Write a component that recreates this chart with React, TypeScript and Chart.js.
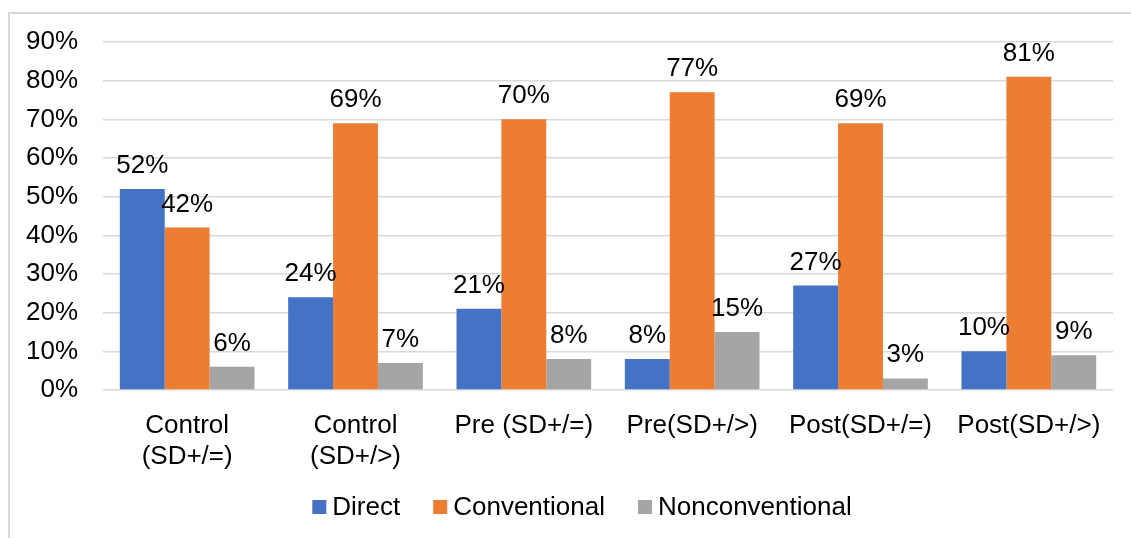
import React, { useEffect, useRef } from "react";
import { Chart, registerables } from "chart.js";

Chart.register(...registerables);

// Groups along the x axis (multi-line labels are arrays)
const categories: (string | string[])[] = [
  ["Control", "(SD+/=)"],
  ["Control", "(SD+/>)"],
  "Pre (SD+/=)",
  "Pre(SD+/>)",
  "Post(SD+/=)",
  "Post(SD+/>)",
];

// Percent of responses per strategy type
const directValues = [52, 24, 21, 8, 27, 10];
const conventionalValues = [42, 69, 70, 77, 69, 81];
const nonconventionalValues = [6, 7, 8, 15, 3, 9];

const seriesNames = ["Direct", "Conventional", "Nonconventional"];
const seriesColors = ["#4472C4", "#ED7D31", "#A5A5A5"];

// y axis: 0% .. 90% in steps of 10
const yMax = 90;
const yStep = 10;

const FONT = '"Liberation Sans", Arial, sans-serif';
const FONT_SIZE = 26;

// Writes the value above each bar
const barValueLabels = {
  id: "barValueLabels",
  afterDatasetsDraw(chart: any) {
    const ctx = chart.ctx;
    ctx.save();
    ctx.font = `${FONT_SIZE}px ${FONT}`;
    ctx.fillStyle = "#000";
    ctx.textAlign = "center";
    ctx.textBaseline = "alphabetic";
    chart.data.datasets.forEach((ds: any, di: number) => {
      const meta = chart.getDatasetMeta(di);
      meta.data.forEach((bar: any, i: number) => {
        ctx.fillText(`${ds.data[i]}%`, bar.x, bar.y - 16);
      });
    });
    ctx.restore();
  },
};

// Legend row under the axis: square swatch + series name
const bottomLegend = {
  id: "bottomLegend",
  afterDraw(chart: any) {
    const ctx = chart.ctx;
    ctx.save();
    ctx.font = `${FONT_SIZE}px ${FONT}`;
    const box = 14;
    const textGap = 6;
    const itemGap = 33;
    const items = chart.data.datasets.map((ds: any) => ({
      text: ds.label as string,
      color: ds.backgroundColor as string,
      w: ctx.measureText(ds.label).width,
    }));
    const total =
      items.reduce((s: number, it: any) => s + box + textGap + it.w, 0) +
      itemGap * (items.length - 1);
    let x = 582 - total / 2;
    const cy = 507;
    ctx.textBaseline = "middle";
    ctx.textAlign = "left";
    items.forEach((it: any) => {
      ctx.fillStyle = it.color;
      ctx.fillRect(x, cy - box / 2, box, box);
      x += box + textGap;
      ctx.fillStyle = "#000";
      ctx.fillText(it.text, x, cy + 1);
      x += it.w + itemGap;
    });
    ctx.restore();
  },
};

function App() {
  const canvasRef = useRef<HTMLCanvasElement | null>(null);

  useEffect(() => {
    if (!canvasRef.current) return;
    const valueSets = [directValues, conventionalValues, nonconventionalValues];
    const chart = new Chart(canvasRef.current, {
      type: "bar",
      data: {
        labels: categories,
        datasets: valueSets.map((vals, i) => ({
          label: seriesNames[i],
          data: vals,
          backgroundColor: seriesColors[i],
          borderWidth: 0,
          categoryPercentage: 0.8,
          barPercentage: 1.0,
        })),
      },
      options: {
        responsive: false,
        animation: false,
        devicePixelRatio: 1,
        layout: { padding: { top: 42, right: 18, bottom: 0, left: 0 } },
        plugins: {
          legend: { display: false },
          tooltip: { enabled: false },
        },
        scales: {
          x: {
            grid: { display: false },
            border: { display: false },
            ticks: {
              color: "#000",
              padding: 13,
              font: { family: FONT, size: FONT_SIZE, lineHeight: 1.17 },
              maxRotation: 0,
              autoSkip: false,
            },
            afterFit(scale: any) {
              scale.height = 148;
            },
          },
          y: {
            min: 0,
            max: yMax,
            border: { display: false },
            grid: { color: "#d9d9d9", lineWidth: 1.5, drawTicks: false },
            ticks: {
              stepSize: yStep,
              color: "#000",
              padding: 25,
              font: { family: FONT, size: FONT_SIZE },
              callback: (v: any) => `${v}%`,
            },
            afterFit(scale: any) {
              scale.width = 103;
            },
          },
        },
      },
      plugins: [barValueLabels, bottomLegend],
    });
    return () => chart.destroy();
  }, []);

  return (
    <div>
      <div
        style={{
          position: "fixed",
          left: 8,
          top: 12,
          width: 2000,
          height: 2000,
          borderLeft: "2px solid #d9d9d9",
          borderTop: "2px solid #d9d9d9",
          background: "#fff",
        }}
      />
      <canvas
        ref={canvasRef}
        width={1131}
        height={538}
        style={{ position: "fixed", left: 0, top: 0, width: 1131, height: 538 }}
      />
    </div>
  );
}

export default App;
